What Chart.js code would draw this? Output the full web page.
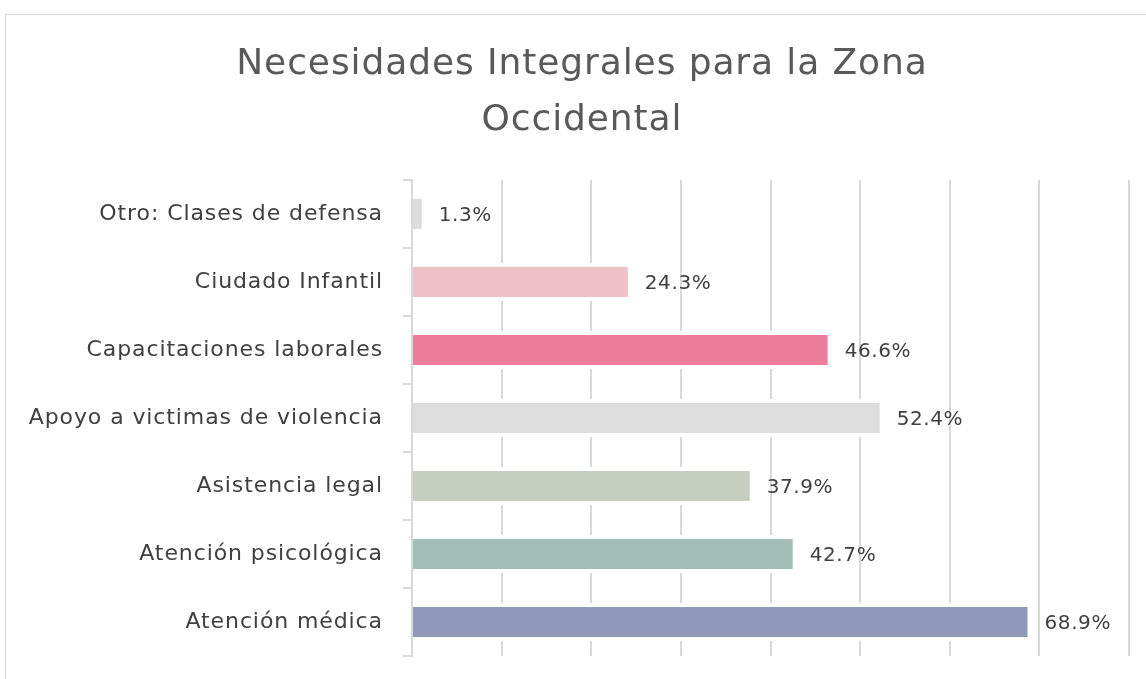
<!DOCTYPE html>
<html>
<head>
<meta charset="utf-8">
<script src="https://cdn.jsdelivr.net/npm/chart.js@4.4.1/dist/chart.umd.min.js"></script>
<style>
    html, body { margin: 0; padding: 0; background: #fff; overflow: hidden; width: 1146px; height: 679px; }
    #frame {
        position: absolute; left: 5px; top: 14px; width: 1150px; height: 680px;
        border-top: 1px solid #d6d6d6; border-left: 1px solid #d6d6d6;
    }
    #chart { position: absolute; left: 10px; top: 15px; display: block; }
</style>
</head>
<body>
<div id="frame"></div>
<canvas id="chart" width="1144" height="664"></canvas>
<script>
// Necesidades integrales - Zona Occidental (horizontal bars)
const categories = [
    'Otro: Clases de defensa',
    'Ciudado Infantil',
    'Capacitaciones laborales',
    'Apoyo a victimas de violencia',
    'Asistencia legal',
    'Atención psicológica',
    'Atención médica'
];
const values = [1.3, 24.3, 46.6, 52.4, 37.9, 42.7, 68.9];
const barColors = ['#dcdcdc', '#eec1c9', '#ee7d9d', '#dddddd', '#c6cfbf', '#a2bdb5', '#8f9aba'];
const xTicks = [0, 10, 20, 30, 40, 50, 60, 70, 80];

const FONT = '"DejaVu Sans", "Open Sans", sans-serif';

// The original uses a wide geometric font; widen DejaVu a little
const wideText = {
    id: 'wideText',
    beforeLayout(chart) { chart.ctx.letterSpacing = '0.9px'; },
    beforeDraw(chart) { chart.ctx.letterSpacing = '0.9px'; }
};

// Draw "xx.x%" after the end of each bar
const barValueLabels = {
    id: 'barValueLabels',
    afterDatasetsDraw(chart) {
        const ctx = chart.ctx;
        const meta = chart.getDatasetMeta(0);
        ctx.save();
        ctx.letterSpacing = '0.6px';
        ctx.font = '20px ' + FONT;
        ctx.fillStyle = '#404040';
        ctx.textAlign = 'left';
        ctx.textBaseline = 'middle';
        meta.data.forEach((bar, i) => {
            ctx.fillText(values[i].toFixed(1) + '%', bar.x + 15, bar.y + 2);
        });
        ctx.restore();
    }
};

const ctx = document.getElementById('chart').getContext('2d');
new Chart(ctx, {
    type: 'bar',
    data: {
        labels: categories,
        datasets: [{
            data: values,
            backgroundColor: barColors,
            borderColor: '#ffffff',
            borderWidth: { top: 4, bottom: 4, right: 2, left: 0 },
            borderSkipped: 'start',
            barPercentage: 0.56,
            categoryPercentage: 1
        }]
    },
    options: {
        indexAxis: 'y',
        responsive: false,
        animation: false,
        layout: { padding: { top: 0, left: 0, right: 0, bottom: 23 } },
        scales: {
            x: {
                min: 0,
                max: 80,
                afterBuildTicks: scale => { scale.ticks = xTicks.map(v => ({ value: v })); },
                ticks: { display: false },
                grid: { color: '#d9d9d9', lineWidth: 2, drawTicks: false },
                border: { display: false }
            },
            y: {
                afterFit: scale => {
                    scale.width = 402;
                    scale.paddingTop = 0;
                    scale.paddingBottom = 0;
                },
                ticks: {
                    color: '#404040',
                    padding: 20,
                    font: { family: FONT, size: 22 }
                },
                grid: {
                    offset: true,
                    drawOnChartArea: false,
                    drawTicks: true,
                    tickLength: 9,
                    color: '#d9d9d9',
                    lineWidth: 2
                },
                border: { display: true, color: '#d9d9d9', width: 2 }
            },
            // empty right-hand spacer so the title stays centred over the frame
            spacer: {
                type: 'linear',
                position: 'right',
                ticks: { display: false },
                grid: { display: false },
                border: { display: false },
                afterFit: scale => { scale.width = 25; }
            }
        },
        plugins: {
            legend: { display: false },
            tooltip: { enabled: false },
            title: {
                display: true,
                text: ['Necesidades Integrales para la Zona', 'Occidental'],
                color: '#595959',
                font: { family: FONT, size: 36, weight: 'normal', lineHeight: 1.54 },
                padding: { top: 22, bottom: 32 }
            }
        }
    },
    plugins: [wideText, barValueLabels]
});
</script>
</body>
</html>
